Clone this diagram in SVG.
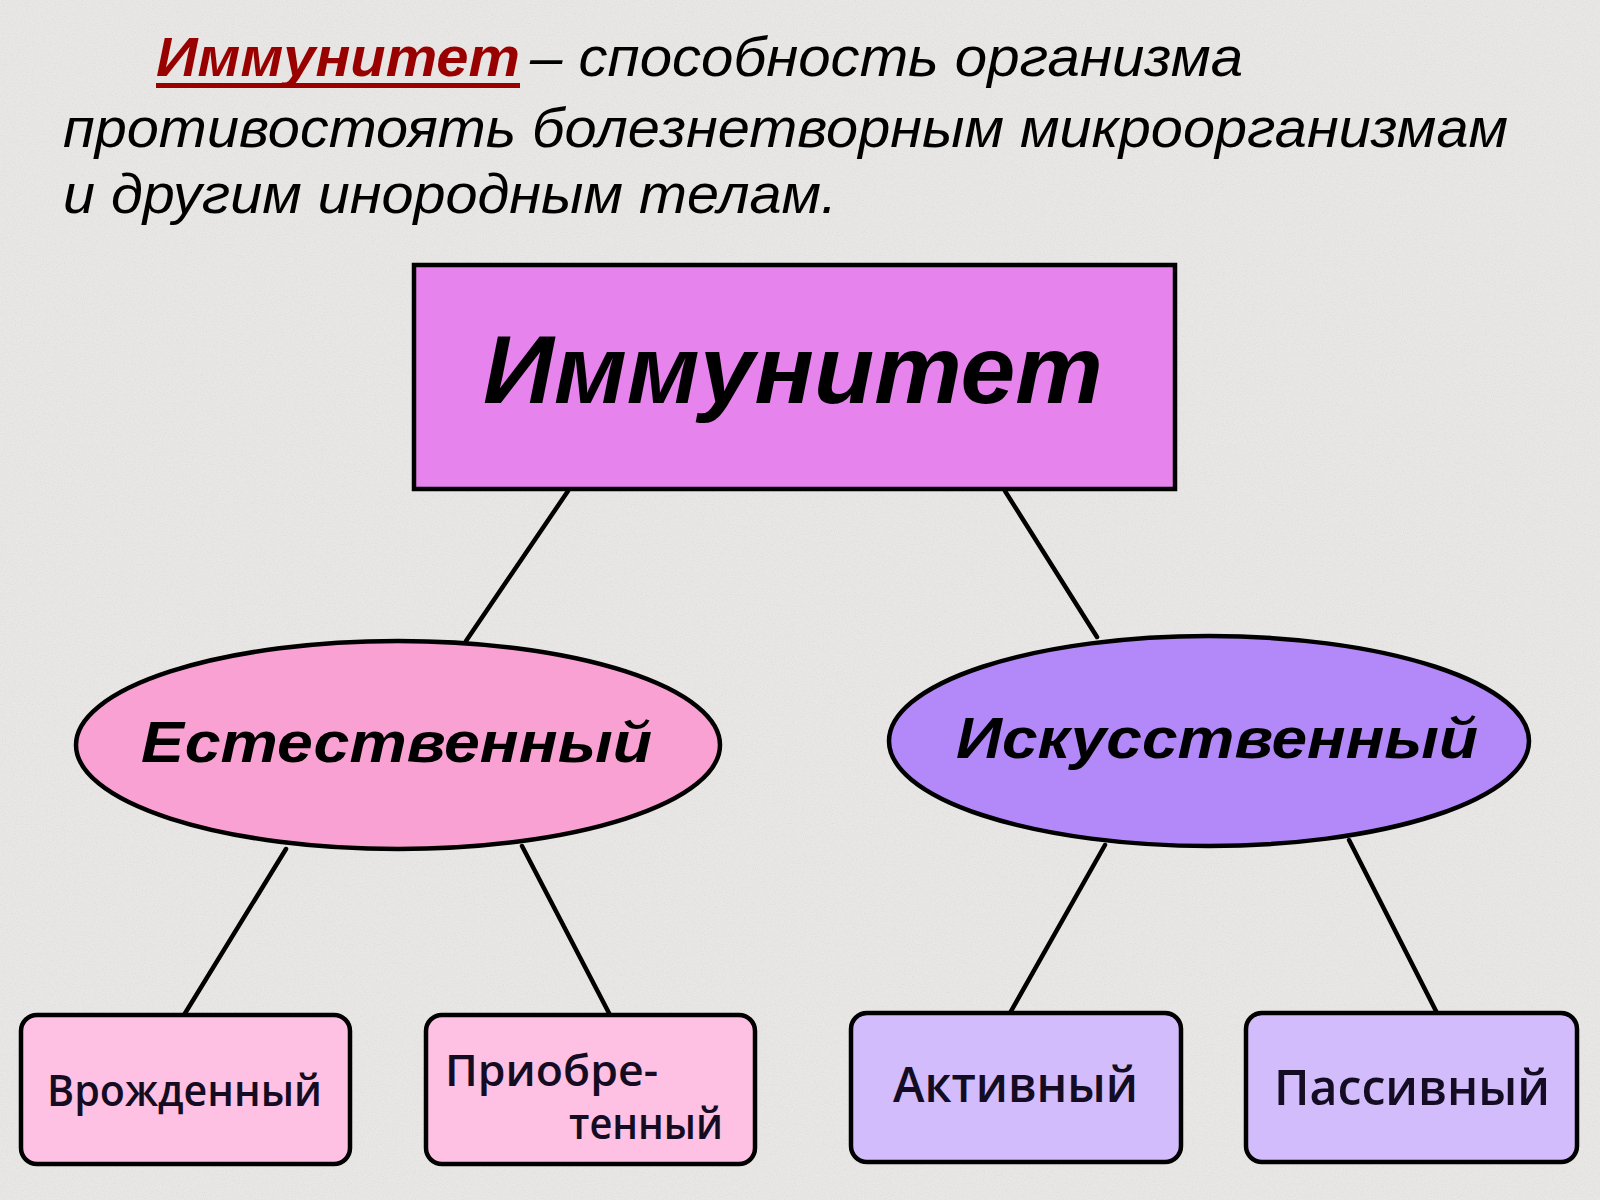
<svg xmlns="http://www.w3.org/2000/svg" width="1600" height="1200" viewBox="0 0 1600 1200">
  <defs>
    <filter id="grain" x="0" y="0" width="100%" height="100%">
      <feTurbulence type="fractalNoise" baseFrequency="0.9" numOctaves="2" seed="3" result="n"/>
      <feColorMatrix in="n" type="matrix" values="0 0 0 0 0.55  0 0 0 0 0.54  0 0 0 0 0.53  0 0 0 -1.6 0.9" result="m"/>
      <feComposite in="m" in2="SourceGraphic" operator="in"/>
    </filter>
  </defs>
  <style>
    .hdr { font-family: "Liberation Sans", Arial, sans-serif; font-style: italic; font-size: 56px; fill: #000; }
    .hdrkey { font-weight: bold; fill: #990000; }
    .big { font-family: "Liberation Sans", Arial, sans-serif; font-style: italic; font-weight: bold; fill: #000; }
    .small { font-family: "Open Sans", "DejaVu Sans", sans-serif; font-weight: 600; fill: #140c22; }
    .node { stroke: #000; stroke-width: 4.5; }
    .conn line { stroke: #000; stroke-width: 4.5; stroke-linecap: round; }
  </style>
  <rect x="0" y="0" width="1600" height="1200" fill="#e9e7e5"/>
  <rect x="0" y="0" width="1600" height="1200" fill="#e9e7e5" filter="url(#grain)" opacity="0.35"/>

  <g id="header">
    <text class="hdr hdrkey" x="156" y="76" textLength="364" lengthAdjust="spacingAndGlyphs">Иммунитет</text>
    <rect x="156" y="83" width="364" height="5" fill="#990000"/>
    <text class="hdr" x="530" y="76" textLength="713" lengthAdjust="spacingAndGlyphs">– способность организма</text>
    <text class="hdr" x="63" y="147" textLength="1445" lengthAdjust="spacingAndGlyphs">противостоять болезнетворным микроорганизмам</text>
    <text class="hdr" x="63" y="213" textLength="774" lengthAdjust="spacingAndGlyphs">и другим инородным телам.</text>
  </g>

  <g id="connectors" class="conn">
    <line x1="568" y1="491" x2="466" y2="641"/>
    <line x1="1005" y1="491" x2="1097" y2="637"/>
    <line x1="286" y1="849" x2="184" y2="1015"/>
    <line x1="522" y1="846" x2="610" y2="1015"/>
    <line x1="1105" y1="845" x2="1010" y2="1013"/>
    <line x1="1349" y1="840" x2="1437" y2="1013"/>
  </g>

  <g id="node-immunitet">
    <rect class="node" x="414" y="265" width="761" height="224" fill="#e683ec"/>
    <text class="big" x="483" y="403" font-size="96" textLength="620" lengthAdjust="spacingAndGlyphs">Иммунитет</text>
  </g>

  <g id="node-estestvenny">
    <ellipse class="node" cx="398" cy="745" rx="322" ry="104" fill="#f9a1d2"/>
    <text class="big" x="141" y="762" font-size="58" textLength="511" lengthAdjust="spacingAndGlyphs">Естественный</text>
  </g>

  <g id="node-iskusstvenny">
    <ellipse class="node" cx="1209" cy="741" rx="320" ry="105" fill="#b388f8"/>
    <text class="big" x="956" y="758" font-size="58" textLength="522" lengthAdjust="spacingAndGlyphs">Искусственный</text>
  </g>

  <g id="node-vrozhdenny">
    <rect class="node" x="21" y="1015" width="329" height="149" rx="16" fill="#ffc1e3"/>
    <text class="small" x="47" y="1106" font-size="43" textLength="275" lengthAdjust="spacingAndGlyphs">Врожденный</text>
  </g>

  <g id="node-priobretenny">
    <rect class="node" x="426" y="1015" width="329" height="149" rx="16" fill="#ffc1e3"/>
    <text class="small" x="445" y="1086" font-size="43" textLength="213" lengthAdjust="spacingAndGlyphs">Приобре-</text>
    <text class="small" x="569" y="1139" font-size="43" textLength="154" lengthAdjust="spacingAndGlyphs">тенный</text>
  </g>

  <g id="node-aktivny">
    <rect class="node" x="851" y="1013" width="330" height="149" rx="16" fill="#d3bcfb"/>
    <text class="small" x="893" y="1102" font-size="48" textLength="245" lengthAdjust="spacingAndGlyphs">Активный</text>
  </g>

  <g id="node-passivny">
    <rect class="node" x="1246" y="1013" width="331" height="149" rx="16" fill="#d3bcfb"/>
    <text class="small" x="1274" y="1105" font-size="48" textLength="276" lengthAdjust="spacingAndGlyphs">Пассивный</text>
  </g>
</svg>
